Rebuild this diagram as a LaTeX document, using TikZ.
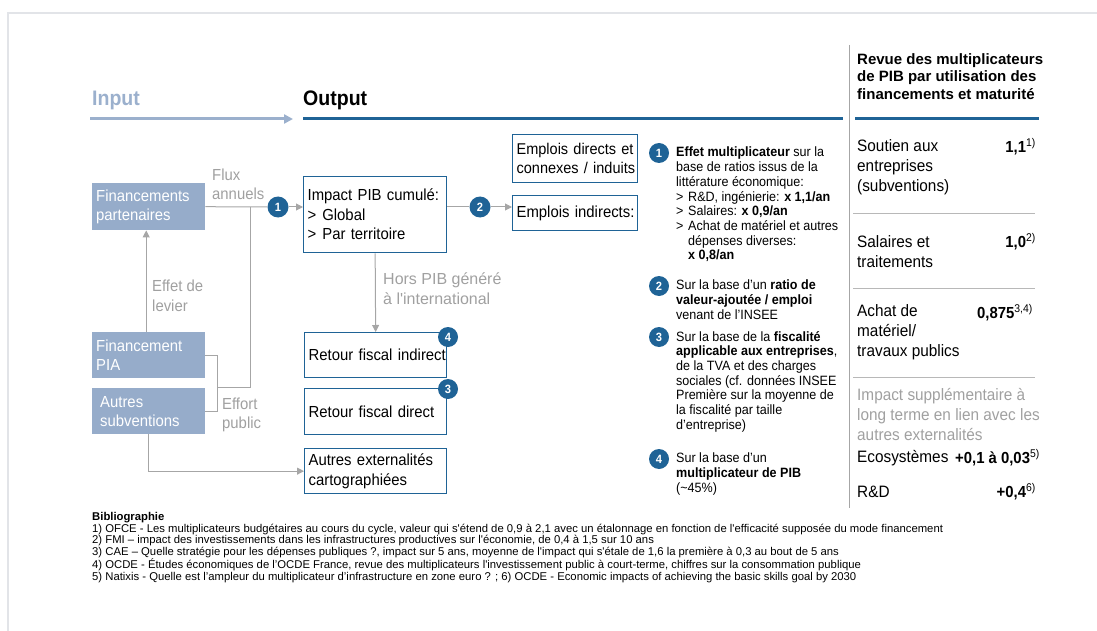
\documentclass[tikz,border=0pt]{standalone}
\usepackage{fontspec}
\setmainfont[FakeStretch=0.93]{Liberation Sans}
\newfontfamily\widef{Liberation Sans}
\usetikzlibrary{arrows.meta}
\definecolor{blueA}{RGB}{31,99,150}
\definecolor{lightA}{RGB}{150,172,202}
\definecolor{inputA}{RGB}{155,176,205}
\definecolor{grayA}{RGB}{166,166,166}
\definecolor{grayT}{RGB}{160,160,160}
\definecolor{frameA}{RGB}{226,228,232}
\newcommand\fsz[2]{\fontsize{#1}{#2}\selectfont}
\begin{document}
\begin{tikzpicture}[x=1pt,y=-1pt,
  inbox/.style={fill=lightA,text=white,inner xsep=4pt,inner ysep=0pt,align=left,anchor=north west,font=\fsz{16}{19}},
  outbox/.style={draw=blueA,line width=1.3pt,fill=white,inner xsep=4pt,inner ysep=0pt,align=left,anchor=north west,font=\fsz{16}{19.5}},
  num/.style={circle,fill=blueA,text=white,font=\bfseries\fsz{12}{12},minimum size=21pt,inner sep=0pt},
  rnum/.style={num,minimum size=20pt},
  conn/.style={draw=grayA,line width=1pt},
  arr/.style={conn,-{Triangle[length=7pt,width=7pt]}},
  glabel/.style={text=grayT,font=\fsz{16}{19.5},align=left,anchor=west,inner sep=0pt},
  note/.style={font=\fsz{13.5}{14.7},align=left,anchor=north west,inner sep=0pt},
  rlab/.style={font=\fsz{16.5}{20},align=left,anchor=west,inner sep=0pt},
  rval/.style={font=\bfseries\fsz{16}{20},anchor=east,inner sep=0pt},
  sep/.style={draw=grayA!80,line width=1pt}]
\useasboundingbox (0,0) rectangle (1097,631);
% frame
\draw[frameA,line width=2pt] (8,631) -- (8,13) -- (1097,13);
% headers
\node[anchor=base west,inner sep=0pt,text=inputA,font=\bfseries\fsz{21}{21}] (inp) at (92,106) {Input};
\node[anchor=base west,inner sep=0pt,font=\bfseries\fsz{21}{21}] (outp) at (303,106) {Output};
\coordinate (ia) at (90,119);
\coordinate (ib) at (293,119);
\draw[inputA,line width=3pt,-{Triangle[length=9pt,width=9pt]}] (ia) -- (ib);
\coordinate (oa) at (303,119);
\coordinate (ob) at (843,119);
\draw[blueA,line width=3pt] (oa) -- (ob);
% input boxes
\node[inbox,text width=105pt,minimum height=47pt] (fp) at (92,183) {\mbox{Financements}\\\mbox{partenaires}};
\node[inbox,text width=105pt,minimum height=46pt] (fpia) at (92,332) {\mbox{Financement}\\PIA};
\node[inbox,text width=97pt,inner xsep=8pt,minimum height=46pt] (as) at (92,388) {Autres\\\mbox{subventions}};
% output boxes
\node[outbox,text width=135pt,minimum height=76pt] (impact) at (303,176) {\mbox{Impact PIB cumulé:}\\>\hspace{6pt}Global\\\mbox{>\hspace{6pt}Par territoire}};
\node[outbox,text width=134pt,minimum height=45pt] (rfi) at (304,332) {\mbox{Retour fiscal indirect}};
\node[outbox,text width=134pt,minimum height=46pt] (rfd) at (304,388) {\mbox{Retour fiscal direct}};
\node[outbox,text width=134pt,minimum height=45pt] (ae) at (304,448) {\mbox{Autres externalités}\\\mbox{cartographiées}};
\node[outbox,text width=117pt,minimum height=48pt,font=\fsz{15.6}{19.5}] (edc) at (512,134) {\mbox{Emplois directs et}\\\mbox{connexes / induits}};
\node[outbox,text width=117pt,minimum height=35pt] (ei) at (512,195) {\mbox{Emplois indirects:}};
% numbered circles (diagram)
\node[num] (n1) at (278,207) {1};
\node[num] (n2) at (480,207) {2};
\node[rnum] (n4) at (448,337) {4};
\node[rnum] (n3) at (448,389) {3};
% connectors
\coordinate (ja) at (250,387);
\coordinate (jb) at (217,387);
\draw[conn] (fp.east) -- (n1.west);
\draw[arr] (n1.east) -- (n1.east -| impact.west);
\draw[conn] (ja |- fp.east) -- (ja) -- (jb);
\draw[conn] (fpia.east) -- (fpia.east -| jb) -- (as.east -| jb) -- (as.east);
\draw[arr] ([xshift=-2.5pt]fpia.north) -- ([xshift=-2.5pt]fp.south);
\draw[arr] (as.south) |- (ae.west);
\draw[arr] (impact.south) -- (rfi.north);
\draw[conn] (impact.east |- n2) -- (n2.west);
\draw[arr] (n2.east) -- (n2.east -| ei.west);
% labels
\node[glabel] (lflux) at (212,184.5) {Flux\\annuels};
\node[glabel] (llev) at (152,296) {Effet de\\levier};
\node[glabel] (leff) at (222,415) {Effort\\public};
\node[glabel,font=\widef\fsz{16}{19.5}] (lhors) at (383,288.5) {Hors PIB généré\\à l'international};
% notes
\node[rnum] (r1) at (659,153) {1};
\node[rnum] (r2) at (659,286) {2};
\node[rnum] (r3) at (659,337) {3};
\node[rnum] (r4) at (659,459) {4};
\node[note] (t1) at (676,147) {\textbf{Effet multiplicateur} sur la\\base de ratios issus de la\\littérature économique:\\\makebox[12pt][l]{>}R\&D, ingénierie: \textbf{x 1,1/an}\\\makebox[12pt][l]{>}Salaires: \textbf{x 0,9/an}\\\makebox[12pt][l]{>}Achat de matériel et autres\\\hspace*{12pt}dépenses diverses:\\\hspace*{12pt}\textbf{x 0,8/an}};
\node[note] (t2) at (676,280) {Sur la base d'un \textbf{ratio de}\\\textbf{valeur-ajoutée / emploi}\\venant de l'INSEE};
\node[note] (t3) at (676,331) {Sur la base de la \textbf{fiscalité}\\\textbf{applicable aux entreprises},\\de la TVA et des charges\\sociales (cf. données INSEE\\Première sur la moyenne de\\la fiscalité par taille\\d'entreprise)};
\node[note] (t4) at (676,453) {Sur la base d'un\\\textbf{multiplicateur de PIB}\\(\textasciitilde45\%)};
% right column
\coordinate (va) at (849,45);
\coordinate (vb) at (849,508);
\draw[grayA,line width=1pt] (va) -- (vb);
\node[font=\widef\bfseries\fsz{15}{17.5},align=left,anchor=west,inner sep=0pt] (title) at (857,76.5) {Revue des multiplicateurs\\de PIB par utilisation des\\financements et maturité};
\coordinate (ra) at (855,119);
\coordinate (rb) at (1039,119);
\draw[blueA,line width=3pt] (ra) -- (rb);
\node[rlab] (s1) at (857,167) {Soutien aux\\entreprises\\(subventions)};
\node[rval] (v1) at (1036,147) {1,1\textsuperscript{\mdseries 1)}};
\coordinate (sa1) at (853,213); \coordinate (sb1) at (1035,213);
\draw[sep] (sa1) -- (sb1);
\node[rlab] (s2) at (857,252) {Salaires et\\traitements};
\node[rval] (v2) at (1036,242) {1,0\textsuperscript{\mdseries 2)}};
\coordinate (sa2) at (853,288); \coordinate (sb2) at (1035,288);
\draw[sep] (sa2) -- (sb2);
\node[rlab] (s3) at (857,332.5) {Achat de\\matériel/\\travaux publics};
\node[rval] (v3) at (1033,313) {0,875\textsuperscript{\mdseries 3,4)}};
\coordinate (sa3) at (853,377); \coordinate (sb3) at (1035,377);
\draw[sep] (sa3) -- (sb3);
\node[rlab,text=grayT] (s4) at (857,415) {Impact supplémentaire à\\long terme en lien avec les\\autres externalités};
\node[rlab] (s5) at (857,458) {Ecosystèmes};
\node[rval] (v5) at (1040,458) {+0,1 à 0,03\textsuperscript{\mdseries 5)}};
\node[rlab] (s6) at (857,492) {R\&D};
\node[rval] (v6) at (1036,492) {+0,4\textsuperscript{\mdseries 6)}};
% bibliography
\node[font=\widef\fsz{11.3}{11.6},align=left,anchor=west,inner sep=0pt] (bib) at (92,547.5) {\textbf{Bibliographie}\\
1) OFCE - Les multiplicateurs budgétaires au cours du cycle, valeur qui s'étend de 0,9 à 2,1 avec un étalonnage en fonction de l'efficacité supposée du mode financement\\
2) FMI – impact des investissements dans les infrastructures productives sur l'économie, de 0,4 à 1,5 sur 10 ans\\
3) CAE – Quelle stratégie pour les dépenses publiques ?, impact sur 5 ans, moyenne de l'impact qui s'étale de 1,6 la première à 0,3 au bout de 5 ans\\
4) OCDE - Études économiques de l’OCDE France, revue des multiplicateurs l'investissement public à court-terme, chiffres sur la consommation publique\\
5) Natixis - Quelle est l’ampleur du multiplicateur d’infrastructure en zone euro ? ; 6) OCDE - Economic impacts of achieving the basic skills goal by 2030};
\end{tikzpicture}
\end{document}
